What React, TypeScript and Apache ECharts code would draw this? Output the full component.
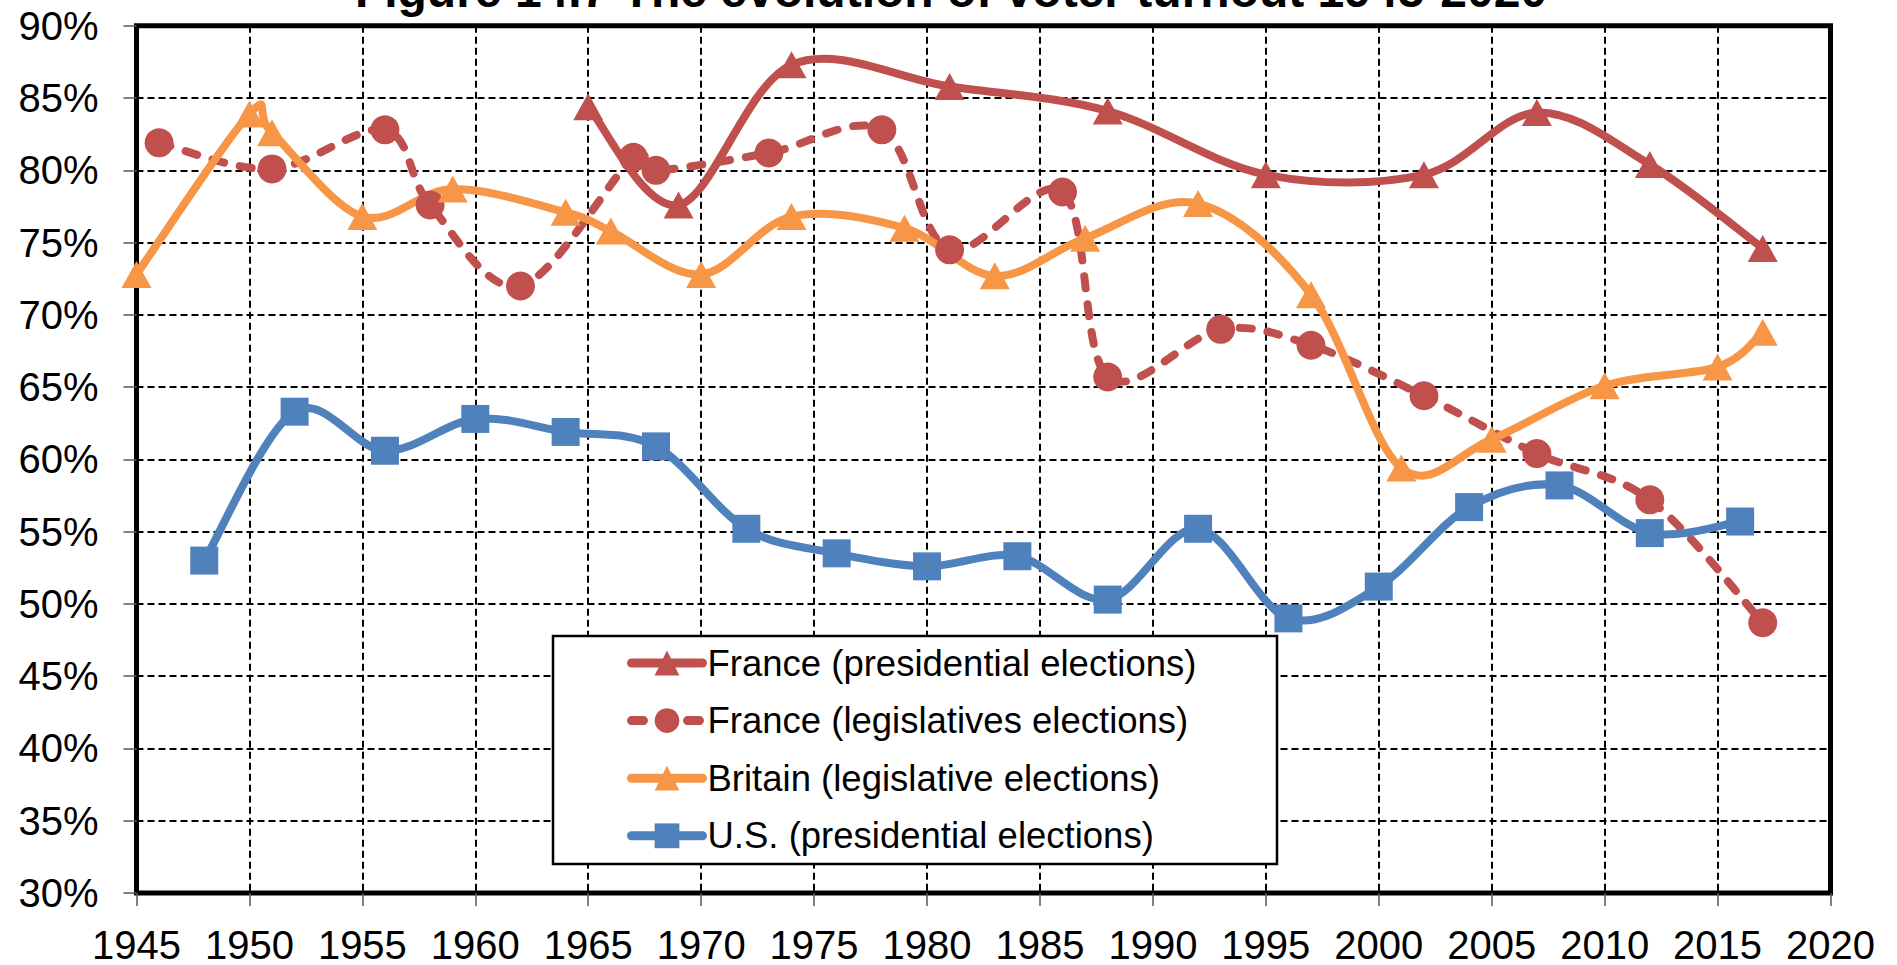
import React, { useEffect, useRef } from "react";
import * as echarts from "echarts";

const titleText = "Figure 14.7 The evolution of voter turnout 1945-2020";

const seriesNames = [
  "France (presidential elections)",
  "France (legislatives elections)",
  "Britain (legislative elections)",
  "U.S. (presidential elections)",
];

const francePresYears = [1965, 1969, 1974, 1981, 1988, 1995, 2002, 2007, 2012, 2017];
const francePresValues = [84.4, 77.6, 87.3, 85.8, 84.1, 79.7, 79.7, 84.0, 80.4, 74.6];

const franceLegYears = [1946, 1951, 1956, 1958, 1962, 1967, 1968, 1973, 1978, 1981, 1986, 1988, 1993, 1997, 2002, 2007, 2012, 2017];
const franceLegValues = [81.9, 80.1, 82.8, 77.6, 72.0, 80.9, 80.0, 81.2, 82.8, 74.5, 78.5, 65.7, 69.0, 67.9, 64.4, 60.4, 57.2, 48.7];

const britainYears = [1945, 1950, 1951, 1955, 1959, 1964, 1966, 1970, 1974, 1979, 1983, 1987, 1992, 1997, 2001, 2005, 2010, 2015, 2017];
const britainValues = [72.8, 83.9, 82.6, 76.8, 78.7, 77.1, 75.8, 72.8, 76.8, 76.0, 72.7, 75.3, 77.7, 71.4, 59.4, 61.4, 65.1, 66.4, 68.8];

const usYears = [1948, 1952, 1956, 1960, 1964, 1968, 1972, 1976, 1980, 1984, 1988, 1992, 1996, 2000, 2004, 2008, 2012, 2016];
const usValues = [53.0, 63.3, 60.6, 62.8, 61.9, 60.9, 55.2, 53.5, 52.6, 53.3, 50.3, 55.2, 49.0, 51.2, 56.7, 58.2, 54.9, 55.7];

const xMin = 1945;
const xMax = 2020;
const xStep = 5;
const yMin = 30;
const yMax = 90;
const yStep = 5;

const RED = "#C0504D";
const ORANGE = "#F79646";
const BLUE = "#4F81BD";
const FONT = "'Liberation Sans', Arial, Helvetica, sans-serif";
const LINE_W = 8;
const DASH = [12, 16];

const pairs = (ys: number[], vs: number[]) => ys.map((y, i) => [y, vs[i]]);

// Smoothed curve (Catmull-Rom style Bezier, as spreadsheet "smoothed lines" do)
const splineSeries = (
  id: string,
  ys: number[],
  vs: number[],
  color: string,
  dash: number[] | null
) => ({
  type: "custom",
  id,
  name: id,
  coordinateSystem: "cartesian2d",
  silent: true,
  clip: true,
  z: 2,
  data: [[ys[0], vs[0]]],
  renderItem: (_params: any, api: any) => {
    const pts: number[][] = ys.map((y, i) => api.coord([y, vs[i]]));
    const f = (n: number) => n.toFixed(2);
    let d = `M${f(pts[0][0])} ${f(pts[0][1])}`;
    for (let i = 0; i < pts.length - 1; i++) {
      const p0 = pts[i - 1] || pts[i];
      const p1 = pts[i];
      const p2 = pts[i + 1];
      const p3 = pts[i + 2] || pts[i + 1];
      const c1x = p1[0] + (p2[0] - p0[0]) / 6;
      const c1y = p1[1] + (p2[1] - p0[1]) / 6;
      const c2x = p2[0] - (p3[0] - p1[0]) / 6;
      const c2y = p2[1] - (p3[1] - p1[1]) / 6;
      d += ` C${f(c1x)} ${f(c1y)} ${f(c2x)} ${f(c2y)} ${f(p2[0])} ${f(p2[1])}`;
    }
    return {
      type: "path",
      shape: { pathData: d },
      style: {
        fill: "none",
        stroke: color,
        lineWidth: LINE_W,
        lineDash: dash || undefined,
        lineCap: "round",
        lineJoin: "round",
      },
    };
  },
});

export default function App() {
  const ref = useRef<HTMLDivElement>(null);

  useEffect(() => {
    if (!ref.current) return;
    const chart = echarts.init(ref.current, null, { renderer: "svg" });
    const markerSeries = (name: string, color: string, data: number[][], symbol: string, size: any) => ({
      type: "line",
      name,
      data,
      symbol,
      symbolSize: size,
      showSymbol: true,
      smooth: false,
      lineStyle: { color, width: LINE_W, opacity: 0 },
      itemStyle: { color },
      emphasis: { disabled: true },
      z: 3,
    });
    const legendLine = (color: string, dashed: boolean) => ({
      color,
      width: 9,
      opacity: 1,
      type: dashed ? DASH : "solid",
      cap: "round",
    });
    chart.setOption({
      animation: false,
      backgroundColor: "#ffffff",
      grid: {
        left: 136.5,
        right: 66.5,
        top: 25.8,
        bottom: 71.8,
        show: true,
        borderColor: "#000",
        borderWidth: 5,
        backgroundColor: "transparent",
      },
      xAxis: {
        type: "value",
        min: xMin,
        max: xMax,
        interval: xStep,
        axisLine: { show: false },
        axisTick: { show: true, length: 13, lineStyle: { color: "#595959", width: 1.5 } },
        axisLabel: {
          fontSize: 40,
          fontFamily: FONT,
          color: "#000",
          margin: 31,
          lineHeight: 41,
          formatter: (v: number) => String(v),
        },
        splitLine: { show: true, lineStyle: { color: "#000", width: 2, type: [7, 4] } },
      },
      yAxis: {
        type: "value",
        min: yMin,
        max: yMax,
        interval: yStep,
        axisLine: { show: false },
        axisTick: { show: true, length: 13, lineStyle: { color: "#595959", width: 1.5 } },
        axisLabel: {
          fontSize: 40,
          fontFamily: FONT,
          color: "#000",
          margin: 38,
          formatter: (v: number) => v + "%",
        },
        splitLine: { show: true, lineStyle: { color: "#000", width: 2, type: [7, 4] } },
      },
      legend: {
        orient: "vertical",
        left: 627,
        top: 644.5,
        itemWidth: 71,
        itemHeight: 31,
        itemGap: 20.6,
        padding: 0,
        z: 10,
        textStyle: { fontSize: 36.5, lineHeight: 37, fontFamily: FONT, color: "#000" },
        data: [
          { name: seriesNames[0], lineStyle: legendLine(RED, false) },
          { name: seriesNames[1], lineStyle: legendLine(RED, true) },
          { name: seriesNames[2], lineStyle: legendLine(ORANGE, false) },
          { name: seriesNames[3], lineStyle: legendLine(BLUE, false) },
        ],
      },
      graphic: [
        {
          type: "rect",
          z: 5,
          shape: { x: 553, y: 636, width: 724, height: 228 },
          style: { fill: "#fff", stroke: "#000", lineWidth: 2.5 },
        },
        {
          type: "text",
          z: 5,
          x: 951,
          y: -9.3,
          style: {
            text: titleText,
            fontSize: 48,
            fontWeight: "bold",
            fontFamily: FONT,
            fill: "#000",
            textAlign: "center",
            textVerticalAlign: "middle",
          },
        },
      ],
      series: [
        splineSeries("curve-fr-pres", francePresYears, francePresValues, RED, null),
        markerSeries(seriesNames[0], RED, pairs(francePresYears, francePresValues), "triangle", [30, 27]),
        splineSeries("curve-fr-leg", franceLegYears, franceLegValues, RED, DASH),
        markerSeries(seriesNames[1], RED, pairs(franceLegYears, franceLegValues), "circle", 29),
        splineSeries("curve-uk", britainYears, britainValues, ORANGE, null),
        markerSeries(seriesNames[2], ORANGE, pairs(britainYears, britainValues), "triangle", [30, 27]),
        splineSeries("curve-us", usYears, usValues, BLUE, null),
        markerSeries(seriesNames[3], BLUE, pairs(usYears, usValues), "rect", 28),
      ],
    });
    return () => chart.dispose();
  }, []);

  return (
    <div
      ref={ref}
      style={{ position: "fixed", left: 0, top: 0, width: 1897, height: 965, background: "#fff" }}
    />
  );
}
